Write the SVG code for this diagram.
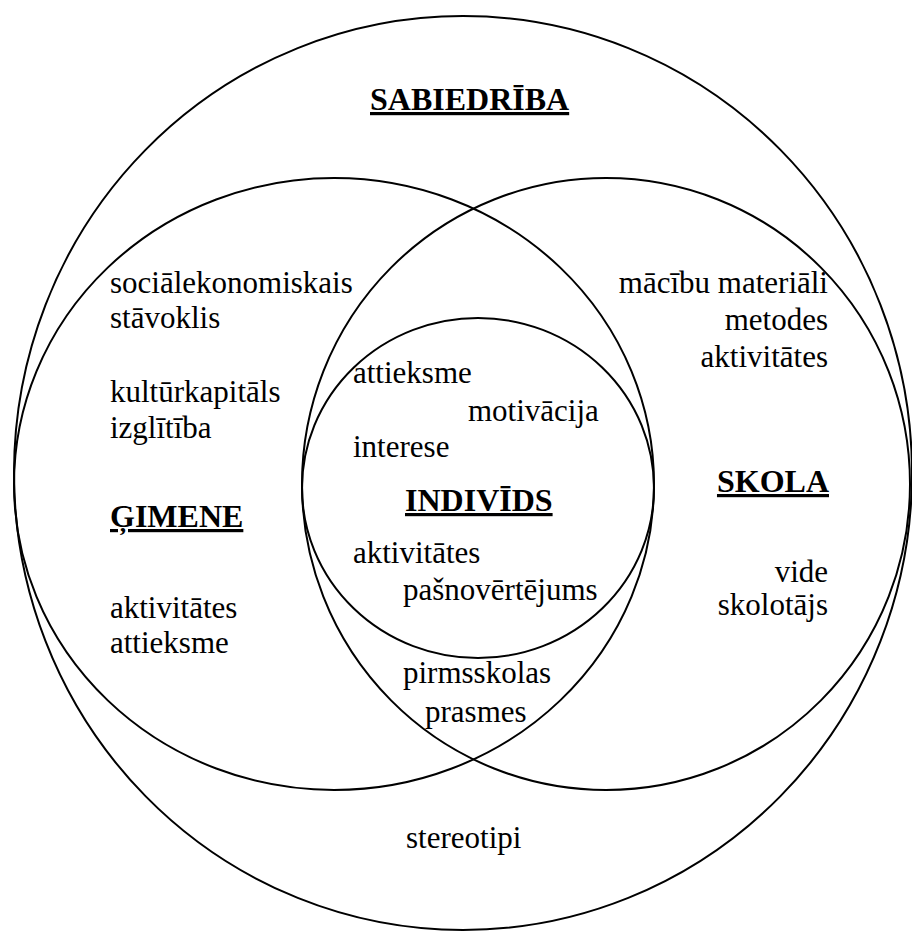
<svg xmlns="http://www.w3.org/2000/svg" width="912" height="931" viewBox="0 0 912 931">
<style>
.c{fill:none;stroke:#000;stroke-width:2}
text{font-family:'Liberation Serif','Times New Roman','DejaVu Serif',serif;fill:#000}
.t{font-size:31px}
.h{font-size:32px;font-weight:bold;text-decoration:underline}
.r{text-anchor:end}
</style>
<rect width="912" height="931" fill="#fff"/>
<g id="sabiedriba">
<ellipse class="c" cx="463" cy="473" rx="449" ry="457"/>
<text class="h" x="370" y="110" font-family="Liberation Serif, serif">SABIEDRĪBA</text>
<text class="t" x="406" y="848" font-family="Liberation Serif, serif">stereotipi</text>
</g>
<g id="gimene">
<ellipse class="c" cx="334" cy="484" rx="320" ry="306"/>
<text class="t" x="110" y="293" font-family="Liberation Serif, serif">sociālekonomiskais</text>
<text class="t" x="110" y="328" font-family="Liberation Serif, serif">stāvoklis</text>
<text class="t" x="110" y="402" font-family="Liberation Serif, serif">kultūrkapitāls</text>
<text class="t" x="110" y="438" font-family="Liberation Serif, serif">izglītība</text>
<text class="h" x="110" y="527" font-family="Liberation Serif, serif">ĢIMENE</text>
<text class="t" x="110" y="618" font-family="Liberation Serif, serif">aktivitātes</text>
<text class="t" x="110" y="653" font-family="Liberation Serif, serif">attieksme</text>
</g>
<g id="skola">
<ellipse class="c" cx="606" cy="484" rx="304" ry="306"/>
<text class="t r" x="828" y="293" font-family="Liberation Serif, serif">mācību materiāli</text>
<text class="t r" x="828" y="330" font-family="Liberation Serif, serif">metodes</text>
<text class="t r" x="828" y="367" font-family="Liberation Serif, serif">aktivitātes</text>
<text class="h r" x="829" y="492" font-family="Liberation Serif, serif">SKOLA</text>
<text class="t r" x="828" y="582" font-family="Liberation Serif, serif">vide</text>
<text class="t r" x="828" y="615" font-family="Liberation Serif, serif">skolotājs</text>
</g>
<g id="overlap">
<text class="t" x="403" y="683" font-family="Liberation Serif, serif">pirmsskolas</text>
<text class="t" x="425" y="722" font-family="Liberation Serif, serif">prasmes</text>
</g>
<g id="individs">
<ellipse class="c" cx="478" cy="488" rx="176" ry="170"/>
<text class="t" x="353" y="383" font-family="Liberation Serif, serif">attieksme</text>
<text class="t" x="468" y="421" font-family="Liberation Serif, serif">motivācija</text>
<text class="t" x="353" y="457" font-family="Liberation Serif, serif">interese</text>
<text class="h" x="405" y="511" font-family="Liberation Serif, serif">INDIVĪDS</text>
<text class="t" x="353" y="563" font-family="Liberation Serif, serif">aktivitātes</text>
<text class="t" x="403" y="600" font-family="Liberation Serif, serif">pašnovērtējums</text>
</g>
<g id="connectors"/>
</svg>
